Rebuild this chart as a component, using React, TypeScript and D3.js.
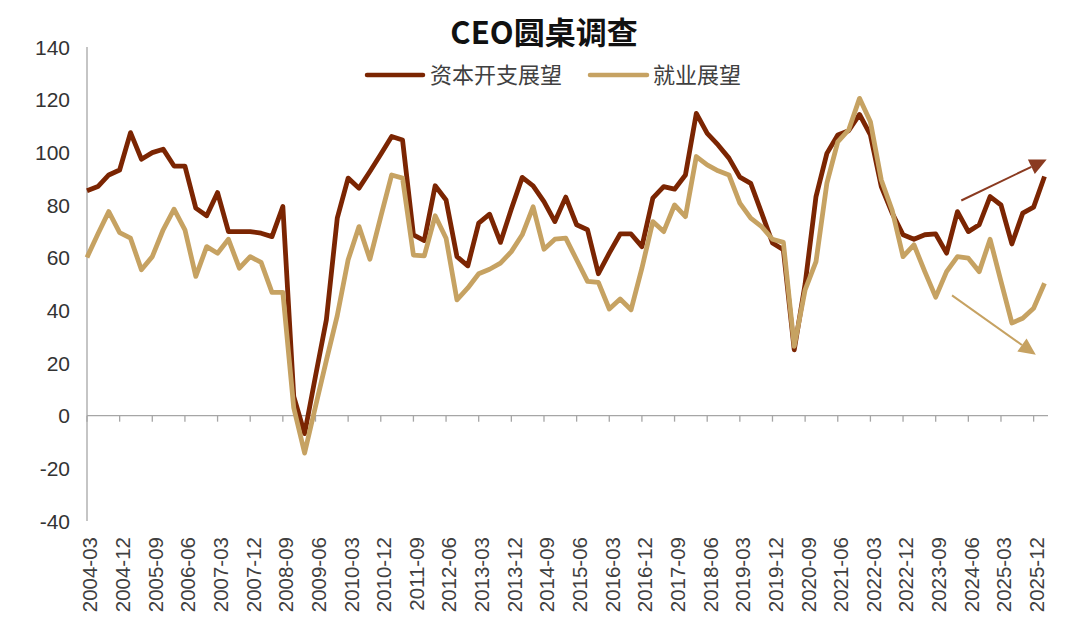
import React from "react";
import * as d3 from "d3";

// ---- data ----
const years = d3.range(2004, 2027);
const quarterMonths = ["03", "06", "09", "12"];
const categories: string[] = years
  .flatMap((y) => quarterMonths.map((m) => `${y}-${m}`))
  .slice(0, 89); // 2004-03 .. 2026-03

const capexOutlook: number[] = [
  85.4, 87, 91.4, 93.3, 107.5, 97.4, 99.9, 101.2, 94.8, 94.8,
  78.8, 75.9, 84.7, 69.9, 69.9, 69.9, 69.3, 68, 79.4, 7.3,
  -6.8, 15, 36.4, 75, 90.2, 86.4, 92.7, 99.3, 106, 104.7,
  68.7, 66.5, 87.3, 81.9, 60.4, 56.9, 73.1, 76.5, 65.8, 78.5,
  90.5, 87.3, 81.3, 73.7, 83, 72.5, 70.6, 53.9, 61.7, 69,
  69, 64.2, 82.6, 87, 86, 91.4, 114.8, 107.2, 102.8, 97.8,
  90.6, 88.2, 77, 65.6, 63, 25, 50, 83.2, 99.6, 106.6,
  108.2, 114.4, 106.6, 87, 76.9, 68.7, 67, 68.7, 69, 61.7,
  77.5, 69.9, 72.5, 83.2, 80, 65.2, 76.9, 79.2, 90.8,
];

const hiringOutlook: number[] = [
  60.1, 69, 77.5, 69.5, 67.4, 55.4, 60.4, 70.6, 78.4, 70.6,
  52.9, 64.2, 61.7, 67, 56, 60.4, 58.2, 46.8, 46.8, 3,
  -14.2, 3.5, 21, 38, 59.2, 71.8, 59.4, 75.6, 91.4, 90.2,
  61, 60.7, 75.9, 67.4, 44, 48.5, 53.9, 55.6, 57.9, 62.3,
  68.7, 79.3, 63.2, 67, 67.4, 59.2, 51, 50.6, 40.5, 44.3,
  40.2, 56, 73.7, 69.9, 80, 75.6, 98.4, 95.2, 93, 91.4,
  80.7, 75, 71.8, 67, 65.8, 26.3, 47.8, 58.5, 88.3, 104,
  108.5, 120.5, 111.6, 89.5, 78, 60.4, 64.9, 54.7, 45, 54.7,
  60.4, 59.8, 54.7, 67, 51, 35.2, 37, 40.8, 50.3,
];

const yTicks: number[] = [-40, -20, 0, 20, 40, 60, 80, 100, 120, 140];
const seriesNames = ["资本开支展望", "就业展望"];
const title = "CEO圆桌调查";

// trend arrows (in data units: fractional category index, value)
const capexTrend = { from: [80.35, 81.7], to: [88.2, 97.3] };
const hiringTrend = { from: [79.5, 45.7], to: [87.2, 23.1] };

// ---- style ----
const CAPEX = "#7B2502";
const HIRING = "#C6A262";
const AXIS = "#A6A6A6";
const NUM_FONT = "'Liberation Sans', Arial, sans-serif";
const CJK_FONT = "'Noto Sans CJK SC', 'Noto Sans', sans-serif";

export default function App() {
  const W = 1080;
  const H = 630;
  const x = d3.scalePoint<string>().domain(categories).range([87, 1044.5]);
  const y = d3.scaleLinear().domain([-40, 140]).range([521, 47]);
  const x0 = x(categories[0]) as number;
  const xAt = (i: number) => x0 + i * x.step();

  const line = d3
    .line<number>()
    .x((_, i) => x(categories[i]) as number)
    .y((v) => y(v));

  const arrow = (t: { from: number[]; to: number[] }, color: string) => {
    const x1 = xAt(t.from[0]);
    const y1 = y(t.from[1]);
    const x2 = xAt(t.to[0]);
    const y2 = y(t.to[1]);
    const a = Math.atan2(y2 - y1, x2 - x1);
    const len = 17;
    const hw = 8;
    const bx = x2 - len * Math.cos(a);
    const by = y2 - len * Math.sin(a);
    const px = -Math.sin(a) * hw;
    const py = Math.cos(a) * hw;
    const head = `${x2},${y2} ${bx + px},${by + py} ${bx - px},${by - py}`;
    return (
      <g>
        <line x1={x1} y1={y1} x2={bx} y2={by} stroke={color} strokeWidth={2} />
        <polygon points={head} fill={color} />
      </g>
    );
  };

  const tickCats = categories.filter((_, i) => i % 3 === 0 && i <= 87);

  return (
    <svg
      width={W}
      height={H}
      style={{ position: "absolute", left: 0, top: 0, background: "#fff" }}
    >
      <rect width={W} height={H} fill="#fff" />
      {/* title */}
      <text
        x={544}
        y={44}
        textAnchor="middle"
        fontFamily={CJK_FONT}
        fontWeight={700}
        fontSize={31}
        fill="#111"
      >
        {title}
      </text>
      {/* legend */}
      <g fontFamily={CJK_FONT} fontSize={22} fill="#404040">
        <line x1={367} x2={423} y1={75} y2={75} stroke={CAPEX} strokeWidth={4.5} strokeLinecap="round" />
        <text x={430} y={82.5}>{seriesNames[0]}</text>
        <line x1={590} x2={647} y1={75} y2={75} stroke={HIRING} strokeWidth={4.5} strokeLinecap="round" />
        <text x={653} y={82.5}>{seriesNames[1]}</text>
      </g>
      {/* y axis */}
      <line x1={x0} x2={x0} y1={y(140)} y2={y(-40)} stroke={AXIS} strokeWidth={1.3} />
      {yTicks.map((t) => (
        <text
          key={t}
          x={70}
          y={y(t)}
          dy="0.36em"
          textAnchor="end"
          fontFamily={NUM_FONT}
          fontSize={21}
          fill="#333"
        >
          {t}
        </text>
      ))}
      {/* zero line + ticks */}
      <line x1={x0} x2={1048} y1={y(0)} y2={y(0)} stroke={AXIS} strokeWidth={1.3} />
      {tickCats.map((c) => (
        <line
          key={c}
          x1={x(c) as number}
          x2={x(c) as number}
          y1={y(0)}
          y2={y(0) + 6}
          stroke={AXIS}
          strokeWidth={1.3}
        />
      ))}
      {/* x labels */}
      {tickCats.map((c) => {
        const cx = (x(c) as number) + 3;
        return (
          <text
            key={c}
            transform={`translate(${cx},537) rotate(-90)`}
            textAnchor="end"
            dy="0.36em"
            fontFamily={NUM_FONT}
            fontSize={20.5}
            fill="#404040"
          >
            {c}
          </text>
        );
      })}
      {/* series */}
      <path
        d={line(capexOutlook) || ""}
        fill="none"
        stroke={CAPEX}
        strokeWidth={4.8}
        strokeLinejoin="round"
      />
      <path
        d={line(hiringOutlook) || ""}
        fill="none"
        stroke={HIRING}
        strokeWidth={4.8}
        strokeLinejoin="round"
      />
      {/* trend arrows */}
      {arrow(capexTrend, "#8A3A20")}
      {arrow(hiringTrend, HIRING)}
    </svg>
  );
}
